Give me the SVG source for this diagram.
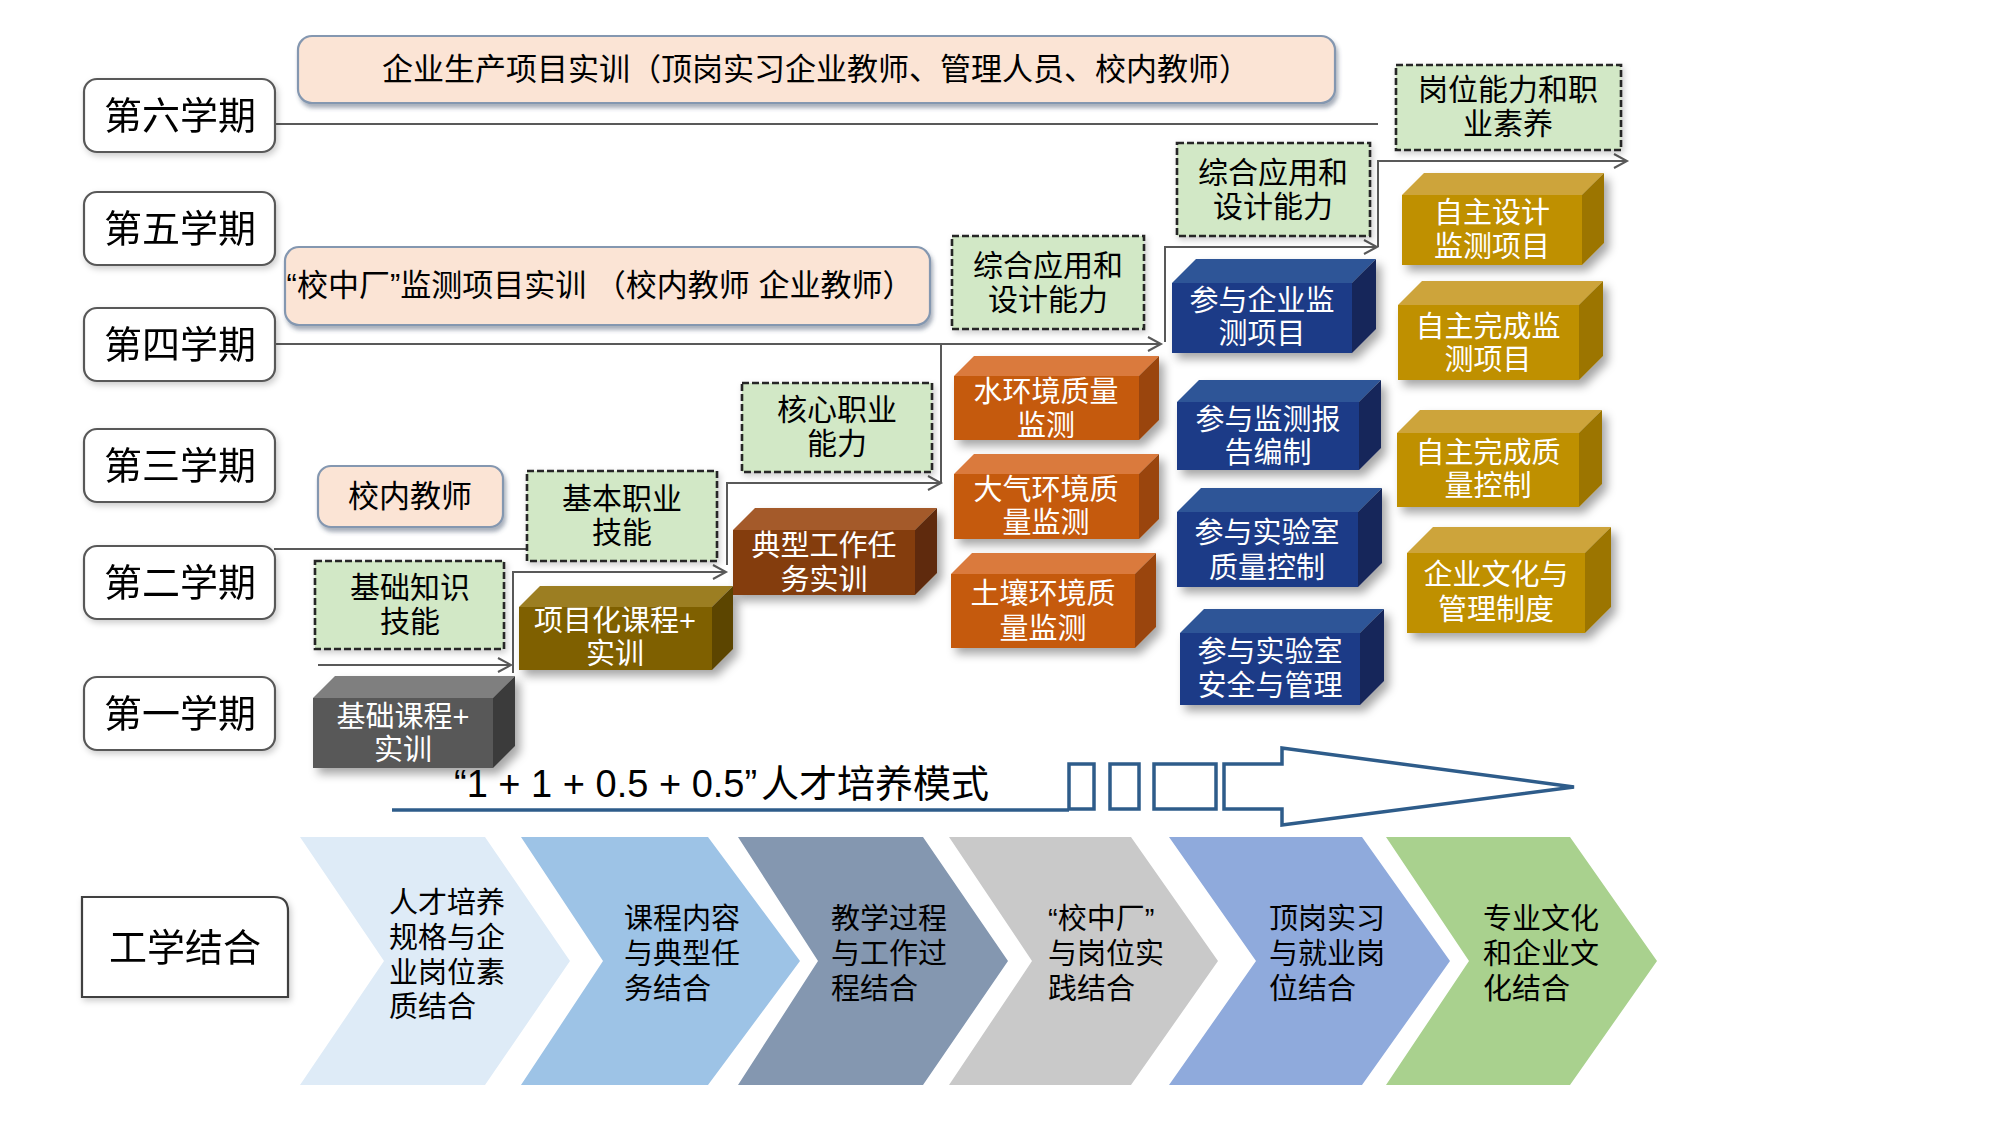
<svg xmlns="http://www.w3.org/2000/svg" width="2000" height="1125" viewBox="0 0 2000 1125">
<defs>
<style>
text{font-family:"Liberation Sans","Noto Sans CJK SC",sans-serif;}
.sem{fill:#fff;stroke:#595959;stroke-width:2.2;}
.st{font-size:38px;fill:#000;text-anchor:middle;}
.peach{fill:#fbe4d5;stroke:#8497b0;stroke-width:2.2;}
.pt{font-size:31px;fill:#000;text-anchor:middle;}
.green{fill:#d2e8c6;stroke:#262626;stroke-width:2.6;stroke-dasharray:7 3;}
.gt{font-size:30px;fill:#000;text-anchor:middle;}
.ct{font-size:29px;fill:#fff;text-anchor:middle;}
.conn{fill:none;stroke:#595959;stroke-width:2;}
.chev{font-size:29px;fill:#000;}
</style>
<filter id="sh" x="-20%" y="-20%" width="150%" height="150%">
<feDropShadow dx="5" dy="6" stdDeviation="5" flood-color="#000" flood-opacity="0.35"/>
</filter>
<filter id="sh2" x="-10%" y="-20%" width="130%" height="150%">
<feDropShadow dx="2" dy="4" stdDeviation="2" flood-color="#3a4a66" flood-opacity="0.45"/>
</filter>
<filter id="sh3" x="-10%" y="-10%" width="130%" height="130%">
<feDropShadow dx="2" dy="3" stdDeviation="3" flood-color="#000" flood-opacity="0.2"/>
</filter>
<marker id="ah" markerWidth="18" markerHeight="18" refX="15" refY="9" orient="auto" markerUnits="userSpaceOnUse">
<path d="M2,2 L15,9 L2,16" fill="none" stroke="#595959" stroke-width="2"/>
</marker>
</defs>
<rect width="2000" height="1125" fill="#fff"/>

<!-- connectors -->
<g id="connectors">
<path class="conn" d="M276,124 H1378" stroke="#6f6f6f" stroke-width="2.5"/>
<path class="conn" d="M276,344 H941" stroke="#474747" stroke-width="5"/>
<path class="conn" d="M274,549 H527"/>
<path class="conn" d="M318,665 H511" marker-end="url(#ah)"/>
<path class="conn" d="M513,673 V572 H726" marker-end="url(#ah)"/>
<path class="conn" d="M727,565 V483 H941" marker-end="url(#ah)"/>
<path class="conn" d="M941,483 V344 H1161" marker-end="url(#ah)"/>
<path class="conn" d="M1165,342 V247 H1377" marker-end="url(#ah)"/>
<path class="conn" d="M1378,247 V161 H1627" marker-end="url(#ah)"/>
</g>

<!-- semester boxes -->
<g id="sem6" filter="url(#sh3)"><rect class="sem" x="84" y="79" width="191" height="73" rx="13"/><text class="st" x="180" y="129">第六学期</text></g>
<g id="sem5" filter="url(#sh3)"><rect class="sem" x="84" y="192" width="191" height="73" rx="13"/><text class="st" x="180" y="242">第五学期</text></g>
<g id="sem4" filter="url(#sh3)"><rect class="sem" x="84" y="308" width="191" height="73" rx="13"/><text class="st" x="180" y="358">第四学期</text></g>
<g id="sem3" filter="url(#sh3)"><rect class="sem" x="84" y="429" width="191" height="73" rx="13"/><text class="st" x="180" y="479">第三学期</text></g>
<g id="sem2" filter="url(#sh3)"><rect class="sem" x="84" y="546" width="191" height="73" rx="13"/><text class="st" x="180" y="596">第二学期</text></g>
<g id="sem1" filter="url(#sh3)"><rect class="sem" x="84" y="677" width="191" height="73" rx="13"/><text class="st" x="180" y="727">第一学期</text></g>

<!-- peach boxes -->
<g id="banner-top"><rect class="peach" filter="url(#sh2)" x="298" y="36" width="1037" height="67" rx="14"/><text class="pt" x="816" y="80">企业生产项目实训（顶岗实习企业教师、管理人员、校内教师）</text></g>
<g id="banner-mid"><rect class="peach" filter="url(#sh2)" x="285" y="247" width="645" height="78" rx="14"/><text class="pt" x="600" y="296">“校中厂”监测项目实训 （校内教师 企业教师）</text></g>
<g id="teacher"><rect class="peach" filter="url(#sh2)" x="318" y="466" width="185" height="61" rx="13"/><text class="pt" x="410" y="507">校内教师</text></g>

<!-- green dashed boxes -->
<g id="g1"><rect class="green" filter="url(#sh3)" x="315" y="561" width="189" height="88"/><text class="gt" x="410" y="598">基础知识</text><text class="gt" x="410" y="632">技能</text></g>
<g id="g2"><rect class="green" filter="url(#sh3)" x="527" y="471" width="190" height="90"/><text class="gt" x="622" y="509">基本职业</text><text class="gt" x="622" y="543">技能</text></g>
<g id="g3"><rect class="green" filter="url(#sh3)" x="742" y="383" width="190" height="89"/><text class="gt" x="837" y="420">核心职业</text><text class="gt" x="837" y="454">能力</text></g>
<g id="g4"><rect class="green" filter="url(#sh3)" x="952" y="236" width="192" height="93"/><text class="gt" x="1048" y="276">综合应用和</text><text class="gt" x="1048" y="310">设计能力</text></g>
<g id="g5"><rect class="green" filter="url(#sh3)" x="1177" y="143" width="193" height="93"/><text class="gt" x="1273" y="183">综合应用和</text><text class="gt" x="1273" y="217">设计能力</text></g>
<g id="g6"><rect class="green" filter="url(#sh3)" x="1396" y="65" width="225" height="85"/><text class="gt" x="1508" y="100">岗位能力和职</text><text class="gt" x="1508" y="134">业素养</text></g>

<!-- cubes -->
<g id="c-basic"><g filter="url(#sh)"><rect x="313" y="698" width="180" height="70" fill="#595959"/><polygon points="313,698 335,676 515,676 493,698" fill="#7f7f7f"/><polygon points="493,698 515,676 515,746 493,768" fill="#3a3a3a"/></g><text class="ct" x="403" y="727">基础课程+</text><text class="ct" x="403" y="760">实训</text></g>
<g id="c-project"><g filter="url(#sh)"><rect x="519" y="607" width="193" height="63" fill="#7f6000"/><polygon points="519,607 540,586 733,586 712,607" fill="#9c7e22"/><polygon points="712,607 733,586 733,649 712,670" fill="#5c4500"/></g><text class="ct" x="615" y="631">项目化课程+</text><text class="ct" x="615" y="664">实训</text></g>
<g id="c-typical"><g filter="url(#sh)"><rect x="733" y="530" width="182" height="65" fill="#843c0c"/><polygon points="733,530 755,508 937,508 915,530" fill="#a45a2c"/><polygon points="915,530 937,508 937,573 915,595" fill="#5e2a08"/></g><text class="ct" x="824" y="556">典型工作任</text><text class="ct" x="824" y="590">务实训</text></g>
<g id="c-water"><g filter="url(#sh)"><rect x="954" y="376" width="185" height="64" fill="#c55a11"/><polygon points="954,376 974,356 1159,356 1139,376" fill="#da7a3e"/><polygon points="1139,376 1159,356 1159,420 1139,440" fill="#9a450c"/></g><text class="ct" x="1046" y="402">水环境质量</text><text class="ct" x="1046" y="436">监测</text></g>
<g id="c-air"><g filter="url(#sh)"><rect x="954" y="474" width="185" height="65" fill="#c55a11"/><polygon points="954,474 974,454 1159,454 1139,474" fill="#da7a3e"/><polygon points="1139,474 1159,454 1159,519 1139,539" fill="#9a450c"/></g><text class="ct" x="1046" y="500">大气环境质</text><text class="ct" x="1046" y="533">量监测</text></g>
<g id="c-soil"><g filter="url(#sh)"><rect x="951" y="574" width="184" height="74" fill="#c55a11"/><polygon points="951,574 972,553 1156,553 1135,574" fill="#da7a3e"/><polygon points="1135,574 1156,553 1156,627 1135,648" fill="#9a450c"/></g><text class="ct" x="1043" y="604">土壤环境质</text><text class="ct" x="1043" y="639">量监测</text></g>
<g id="c-ent"><g filter="url(#sh)"><rect x="1172" y="283" width="180" height="70" fill="#1c3a87"/><polygon points="1172,283 1196,259 1376,259 1352,283" fill="#2f5597"/><polygon points="1352,283 1376,259 1376,329 1352,353" fill="#13265a"/></g><text class="ct" x="1262" y="311">参与企业监</text><text class="ct" x="1262" y="344">测项目</text></g>
<g id="c-report"><g filter="url(#sh)"><rect x="1177" y="402" width="182" height="68" fill="#1c3a87"/><polygon points="1177,402 1199,380 1381,380 1359,402" fill="#2f5597"/><polygon points="1359,402 1381,380 1381,448 1359,470" fill="#13265a"/></g><text class="ct" x="1268" y="430">参与监测报</text><text class="ct" x="1268" y="463">告编制</text></g>
<g id="c-qc"><g filter="url(#sh)"><rect x="1177" y="512" width="181" height="75" fill="#1c3a87"/><polygon points="1177,512 1201,488 1382,488 1358,512" fill="#2f5597"/><polygon points="1358,512 1382,488 1382,563 1358,587" fill="#13265a"/></g><text class="ct" x="1267" y="543">参与实验室</text><text class="ct" x="1267" y="578">质量控制</text></g>
<g id="c-safety"><g filter="url(#sh)"><rect x="1180" y="633" width="180" height="72" fill="#1c3a87"/><polygon points="1180,633 1204,609 1384,609 1360,633" fill="#2f5597"/><polygon points="1360,633 1384,609 1384,681 1360,705" fill="#13265a"/></g><text class="ct" x="1270" y="662">参与实验室</text><text class="ct" x="1270" y="696">安全与管理</text></g>
<g id="c-design"><g filter="url(#sh)"><rect x="1402" y="195" width="180" height="70" fill="#bf9000"/><polygon points="1402,195 1424,173 1604,173 1582,195" fill="#cda43a"/><polygon points="1582,195 1604,173 1604,243 1582,265" fill="#9c7500"/></g><text class="ct" x="1492" y="223">自主设计</text><text class="ct" x="1492" y="257">监测项目</text></g>
<g id="c-complete"><g filter="url(#sh)"><rect x="1398" y="305" width="181" height="75" fill="#bf9000"/><polygon points="1398,305 1422,281 1603,281 1579,305" fill="#cda43a"/><polygon points="1579,305 1603,281 1603,356 1579,380" fill="#9c7500"/></g><text class="ct" x="1488" y="337">自主完成监</text><text class="ct" x="1488" y="370">测项目</text></g>
<g id="c-quality"><g filter="url(#sh)"><rect x="1397" y="433" width="182" height="74" fill="#bf9000"/><polygon points="1397,433 1420,410 1602,410 1579,433" fill="#cda43a"/><polygon points="1579,433 1602,410 1602,484 1579,507" fill="#9c7500"/></g><text class="ct" x="1488" y="463">自主完成质</text><text class="ct" x="1488" y="496">量控制</text></g>
<g id="c-culture"><g filter="url(#sh)"><rect x="1407" y="553" width="178" height="80" fill="#bf9000"/><polygon points="1407,553 1433,527 1611,527 1585,553" fill="#cda43a"/><polygon points="1585,553 1611,527 1611,607 1585,633" fill="#9c7500"/></g><text class="ct" x="1496" y="585">企业文化与</text><text class="ct" x="1496" y="620">管理制度</text></g>

<!-- mode arrow -->
<g id="mode-arrow" fill="none" stroke="#2e5c8a" stroke-width="3.5">
<path d="M392,810 H1069"/>
<rect x="1069" y="764" width="25" height="45" fill="#fff"/>
<rect x="1110" y="764" width="29" height="45" fill="#fff"/>
<rect x="1154" y="764" width="62" height="45" fill="#fff"/>
<path d="M1282,764 H1224 V809 H1282 V825 L1574,787 L1282,748 Z" fill="#fff" stroke-linejoin="miter"/>
</g>
<text id="mode-label" font-size="38" fill="#000" x="454" y="797">“1 + 1 + 0.5 + 0.5”<tspan x="761">人才培养模式</tspan></text>

<!-- 工学结合 -->
<g id="gxjh" filter="url(#sh3)"><path d="M82,897 H274 Q288,897 288,911 V997 H82 Z" fill="#fff" stroke="#404040" stroke-width="2.2"/><text class="st" x="185" y="961" font-size="40">工学结合</text></g>

<!-- chevrons -->
<g id="chev1"><polygon points="300,837 485,837 570,961 485,1085 300,1085 384,961" fill="#deebf7"/><text class="chev" x="389" y="913">人才培养</text><text class="chev" x="389" y="948">规格与企</text><text class="chev" x="389" y="983">业岗位素</text><text class="chev" x="389" y="1017">质结合</text></g>
<g id="chev2"><polygon points="521,837 708,837 800,961 708,1085 521,1085 603,961" fill="#9dc3e6"/><text class="chev" x="624" y="929">课程内容</text><text class="chev" x="624" y="964">与典型任</text><text class="chev" x="624" y="999">务结合</text></g>
<g id="chev3"><polygon points="738,837 923,837 1008,961 923,1085 738,1085 818,961" fill="#8497b0"/><text class="chev" x="831" y="929">教学过程</text><text class="chev" x="831" y="964">与工作过</text><text class="chev" x="831" y="999">程结合</text></g>
<g id="chev4"><polygon points="949,837 1131,837 1218,961 1131,1085 949,1085 1032,961" fill="#c9c9c9"/><text class="chev" x="1048" y="929">“校中厂”</text><text class="chev" x="1048" y="964">与岗位实</text><text class="chev" x="1048" y="999">践结合</text></g>
<g id="chev5"><polygon points="1169,837 1362,837 1450,961 1362,1085 1169,1085 1256,961" fill="#8faadc"/><text class="chev" x="1269" y="929">顶岗实习</text><text class="chev" x="1269" y="964">与就业岗</text><text class="chev" x="1269" y="999">位结合</text></g>
<g id="chev6"><polygon points="1386,837 1570,837 1657,961 1570,1085 1386,1085 1469,961" fill="#a9d18e"/><text class="chev" x="1483" y="929">专业文化</text><text class="chev" x="1483" y="964">和企业文</text><text class="chev" x="1483" y="999">化结合</text></g>
</svg>
